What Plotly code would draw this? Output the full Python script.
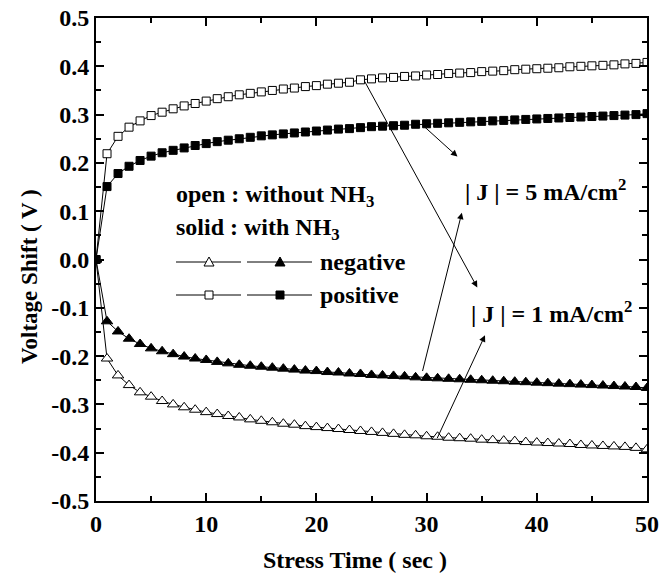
import plotly.graph_objects as go

# ---- data ----
t = list(range(51))

pos_open = [0.000, 0.219, 0.255, 0.274, 0.287, 0.298, 0.305, 0.312, 0.318, 0.323,
            0.328, 0.333, 0.337, 0.341, 0.344, 0.347, 0.350, 0.353, 0.355, 0.358,
            0.360, 0.363, 0.365, 0.367, 0.372, 0.374, 0.376, 0.377, 0.379, 0.380,
            0.382, 0.383, 0.385, 0.386, 0.387, 0.389, 0.390, 0.391, 0.393, 0.394,
            0.395, 0.396, 0.397, 0.399, 0.400, 0.401, 0.402, 0.403, 0.405, 0.406,
            0.408]
pos_solid = [0.000, 0.151, 0.178, 0.193, 0.205, 0.214, 0.221, 0.226, 0.231, 0.236,
             0.240, 0.244, 0.247, 0.250, 0.253, 0.256, 0.258, 0.260, 0.262, 0.264,
             0.266, 0.268, 0.270, 0.271, 0.273, 0.275, 0.276, 0.277, 0.278, 0.280,
             0.281, 0.282, 0.283, 0.284, 0.285, 0.286, 0.287, 0.288, 0.289, 0.290,
             0.291, 0.292, 0.293, 0.294, 0.295, 0.296, 0.297, 0.298, 0.299, 0.300,
             0.302]
neg_open = [0.000, -0.205, -0.240, -0.260, -0.275, -0.284, -0.293, -0.300, -0.306, -0.311,
            -0.316, -0.320, -0.324, -0.327, -0.331, -0.334, -0.337, -0.340, -0.342, -0.345,
            -0.347, -0.349, -0.351, -0.353, -0.355, -0.357, -0.359, -0.361, -0.363, -0.364,
            -0.366, -0.367, -0.369, -0.370, -0.371, -0.373, -0.374, -0.375, -0.376, -0.378,
            -0.379, -0.380, -0.381, -0.382, -0.384, -0.385, -0.386, -0.387, -0.388, -0.390,
            -0.393]
neg_solid = [0.000, -0.128, -0.149, -0.164, -0.175, -0.184, -0.190, -0.196, -0.201, -0.205,
             -0.208, -0.212, -0.215, -0.218, -0.220, -0.222, -0.224, -0.226, -0.228, -0.230,
             -0.231, -0.233, -0.234, -0.236, -0.237, -0.239, -0.240, -0.241, -0.242, -0.244,
             -0.245, -0.246, -0.247, -0.248, -0.249, -0.250, -0.251, -0.252, -0.253, -0.254,
             -0.255, -0.256, -0.257, -0.258, -0.259, -0.260, -0.261, -0.262, -0.263, -0.264,
             -0.266]

x_tickvals = [0, 10, 20, 30, 40, 50]
x_ticktext = ["0", "10", "20", "30", "40", "50"]
y_tickvals = [-0.5, -0.4, -0.3, -0.2, -0.1, 0.0, 0.1, 0.2, 0.3, 0.4, 0.5]
y_ticktext = ["-0.5", "-0.4", "-0.3", "-0.2", "-0.1", "0.0", "0.1", "0.2", "0.3", "0.4", "0.5"]

FONT = "Liberation Serif"

fig = go.Figure()

def add_series(y, symbol, filled, size):
    fig.add_trace(go.Scatter(
        x=t, y=y, mode="lines+markers",
        line=dict(color="black", width=1),
        marker=dict(symbol=symbol, size=size,
                    color="black" if filled else "white",
                    line=dict(color="black", width=1)),
        showlegend=False,
    ))

add_series(pos_open, "square", False, 8)
add_series(pos_solid, "square", True, 8)
add_series(neg_open, "triangle-up", False, 10)
add_series(neg_solid, "triangle-up", True, 10)

# ---- layout (body margin removed by post_script) ----
W, H = 669, 579
PL, PR, PT, PB = 96, 647, 18, 501          # plot area edges on the page
L, T, R, B = PL, PT, W - PR, H - PB

axis_common = dict(
    showline=True, linewidth=2, linecolor="black", mirror="ticks",
    ticks="inside", ticklen=8, tickwidth=1.5, tickcolor="black",
    showgrid=False, zeroline=False, automargin=False,
    ticklabeloverflow="allow",
    tickfont=dict(family=FONT, size=24, color="black", weight="bold"),
)

fig.update_layout(
    width=W, height=H,
    margin=dict(l=L, r=R, t=T, b=B),
    paper_bgcolor="white", plot_bgcolor="white",
    font=dict(family=FONT, color="black", weight="bold"),
    xaxis=dict(range=[0, 50], tickvals=x_tickvals, ticktext=x_ticktext,
               minor=dict(ticks="inside", ticklen=5, tickwidth=1.5, tickcolor="black", dtick=5, tick0=0),
               **axis_common),
    yaxis=dict(range=[-0.5, 0.5], tickvals=y_tickvals, ticktext=y_ticktext,
               minor=dict(ticks="inside", ticklen=5, tickwidth=1.5, tickcolor="black", dtick=0.05, tick0=0),
               **axis_common),
)

def px2paper(px, py):
    return (px - PL) / (PR - PL), (PB - py) / (PB - PT)

# ---- axis titles ----
xt, yt = px2paper(355, 560)
fig.add_annotation(x=xt, y=yt, xref="paper", yref="paper", text="Stress Time ( sec )",
                   showarrow=False, xanchor="center", yanchor="middle",
                   font=dict(family=FONT, size=24, color="black", weight="bold"))
xt, yt = px2paper(30, 277)
fig.add_annotation(x=xt, y=yt, xref="paper", yref="paper", text="Voltage Shift ( V )",
                   textangle=-90, showarrow=False, xanchor="center", yanchor="middle",
                   font=dict(family=FONT, size=23, color="black", weight="bold"))

# ---- legend block drawn with annotations / shapes ----
def text_at(px, py, s, size=24):
    xp, yp = px2paper(px, py)
    fig.add_annotation(x=xp, y=yp, xref="paper", yref="paper", text=s,
                       showarrow=False, xanchor="left", yanchor="middle",
                       font=dict(family=FONT, size=size, color="black", weight="bold"))

text_at(174, 196, "open : without NH<sub>3</sub>")
text_at(174, 229, "solid : with NH<sub>3</sub>")
text_at(318, 262, "negative")
text_at(318, 295, "positive")

def seg(px0, px1, py):
    x0, y0 = px2paper(px0, py)
    x1, _ = px2paper(px1, py)
    fig.add_shape(type="line", xref="paper", yref="paper", x0=x0, x1=x1, y0=y0, y1=y0,
                  line=dict(color="black", width=1))

def marker_shape(px, py, kind, filled):
    xp, yp = px2paper(px, py)
    if kind == "tri":
        path = "M -5 -4 L 5 -4 L 0 5 Z"
    else:
        path = "M -4 -4 L 4 -4 L 4 4 L -4 4 Z"
    fig.add_shape(type="path", xref="paper", yref="paper", xsizemode="pixel", ysizemode="pixel",
                  xanchor=xp, yanchor=yp, path=path,
                  fillcolor="black" if filled else "white", line=dict(color="black", width=1))

for py, kind in [(262, "tri"), (295, "sq")]:
    seg(176, 241, py)
    marker_shape(209, py, kind, False)
    seg(247, 312, py)
    marker_shape(280, py, kind, True)

# ---- current density labels and arrows ----
fig.add_annotation(x=40.8, y=0.144, xref="x", yref="y", text="| J | = 5 mA/cm<sup>2</sup>",
                   showarrow=False, font=dict(family=FONT, size=24, color="black", weight="bold"))
fig.add_annotation(x=41.3, y=-0.109, xref="x", yref="y", text="| J | = 1 mA/cm<sup>2</sup>",
                   showarrow=False, font=dict(family=FONT, size=24, color="black", weight="bold"))

arrows = [
    ((24.3, 0.372), (34.6, -0.058)),
    ((29.7, 0.277), (32.8, 0.213)),
    ((29.6, -0.234), (33.2, 0.097)),
    ((30.9, -0.373), (35.3, -0.157)),
]
for (tx, ty), (hx, hy) in arrows:
    fig.add_annotation(x=hx, y=hy, ax=tx, ay=ty, xref="x", yref="y", axref="x", ayref="y",
                       text="", showarrow=True, arrowhead=2, arrowsize=1.3, arrowwidth=1,
                       arrowcolor="black")

fig.write_html("out.html", config={"displayModeBar": False},
               post_script="document.body.style.margin='0';")
